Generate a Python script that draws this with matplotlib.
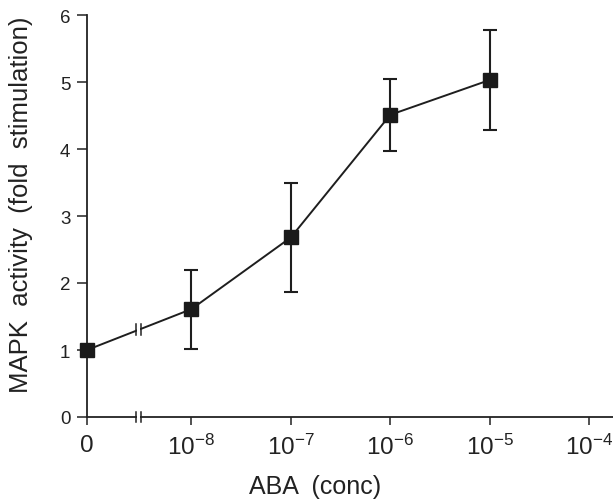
import matplotlib.pyplot as plt
import matplotlib as mpl
import numpy as np

mpl.rcParams.update({
    'font.family':      ['Liberation Sans', 'DejaVu Sans'],
    'mathtext.fontset': 'custom',
    'mathtext.rm':      'Liberation Sans',
    'mathtext.it':      'Liberation Sans',
    'mathtext.bf':      'Liberation Sans',
    'axes.linewidth':   1.3,
    'axes.edgecolor':   '#222222',
})

# data: ABA concentration (M) vs MAPK activity
conc = [0, 1e-8, 1e-7, 1e-6, 1e-5]
activity = [1.0, 1.61, 2.68, 4.51, 5.03]
err = [0.0, 0.59, 0.81, 0.54, 0.74]
xtick_conc = [0, 1e-8, 1e-7, 1e-6, 1e-5, 1e-4]
xtick_labels = ['0', r'$10^{-8}$', r'$10^{-7}$', r'$10^{-6}$',
                r'$10^{-5}$', r'$10^{-4}$']
yticks = [0, 1, 2, 3, 4, 5, 6]

ZERO_POS = -9.05    # where the "0" concentration sits on the broken axis
BREAK_POS = -8.53


def to_pos(c):
    return ZERO_POS if c == 0 else np.log10(c)


xpos = [to_pos(c) for c in conc]
xtick_pos = [to_pos(c) for c in xtick_conc]

fig = plt.figure(figsize=(6.13, 5.02), dpi=100)
ax = fig.add_axes([87 / 613, 84 / 502, 526 / 613, 402 / 502])

ax.errorbar(xpos, activity, yerr=err, color='#1e1e1e', lw=1.4,
            marker='s', ms=9.5, mfc='#1a1a1a', mec='#1a1a1a',
            ecolor='#1e1e1e', elinewidth=1.5, capsize=5, capthick=1.5,
            zorder=3, clip_on=False)

ax.set_xlim(ZERO_POS, -3.76)
ax.set_ylim(0, 6)
ax.set_xticks(xtick_pos)
ax.set_xticklabels(xtick_labels, fontsize=17.5)
ax.set_yticks(yticks)
ax.tick_params(axis='y', labelsize=13.5, length=7, width=1.1,
               direction='out', pad=5, colors='#222222')
ax.tick_params(axis='x', length=6, width=1.1, direction='out', pad=6,
               colors='#222222')
ax.spines['top'].set_visible(False)
ax.spines['right'].set_visible(False)

ax.set_xlabel('ABA  (conc)', fontsize=18, color='#222222')
ax.xaxis.set_label_coords((315 - 87) / 526, -(487 - 418) / 402)
ax.xaxis.label.set_va('center')
ax.set_ylabel('MAPK  activity  (fold  stimulation)', fontsize=18.5,
              color='#222222')
ax.yaxis.set_label_coords(-(87 - 21) / 526, (418 - 205) / 402)
ax.yaxis.label.set_va('center')

# break marks on axis and on the data line
y_line = np.interp(BREAK_POS, xpos[:2], activity[:2])
for yb in (0.0, y_line):
    ax.plot([BREAK_POS - 0.015, BREAK_POS + 0.015], [yb, yb],
            color='white', lw=3, zorder=4, clip_on=False,
            solid_capstyle='butt')
    for dx in (-0.025, 0.025):
        ax.plot([BREAK_POS + dx] * 2, [yb - 0.08, yb + 0.08],
                color='#222222', lw=1.1, zorder=5, clip_on=False)

fig.savefig('out.png', dpi=100)
